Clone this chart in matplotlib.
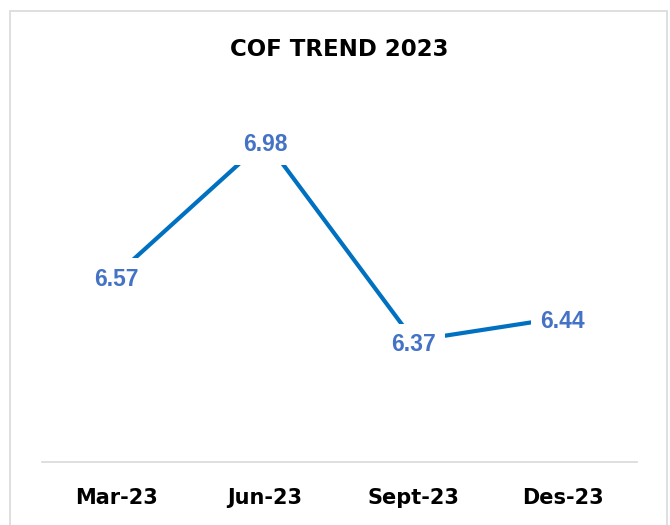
import matplotlib
matplotlib.use("Agg")
from matplotlib import pyplot as plt
from matplotlib.patches import Rectangle


# figure data
periods = ["Mar-23", "Jun-23", "Sept-23", "Des-23"]
cof_values = [6.57, 6.98, 6.37, 6.44]
chart_title = "COF TREND 2023"

# figure params
line_color = "#0070C0"
label_color = "#4472C4"
grid_color = "#D9D9D9"

# figure making
fig = plt.figure(figsize=(6.7, 5.25), dpi=100)
fig.patch.set_facecolor("white")
ax = fig.add_axes([42 / 670, 1 - 462 / 525, 595 / 670, (462 - 68) / 525])

xs = range(len(periods))
ax.plot(xs, cof_values, color=line_color, linewidth=3, solid_capstyle="butt", zorder=2)

for x, v in zip(xs, cof_values):
    ax.annotate(f"{v:.2f}", (x, v), xytext=(0, -3), textcoords="offset points",
                ha="center", va="center", fontsize=16.5, fontweight="bold",
                family=["Liberation Sans", "DejaVu Sans"], color=label_color,
                bbox=dict(boxstyle="square,pad=0.4", facecolor="white", edgecolor="none"),
                zorder=3)

ax.set_xlim(-0.5, len(periods) - 0.5)
ax.set_ylim(6.0, 7.2)
ax.set_xticks(list(xs))
ax.set_xticklabels(periods, fontsize=15, fontweight="bold", family="DejaVu Sans")
ax.set_yticks([])
ax.tick_params(axis="x", length=0, pad=19)

ax.spines['right'].set_visible(False)
ax.spines['left'].set_visible(False)
ax.spines['top'].set_visible(False)
ax.spines['bottom'].set_color(grid_color)
ax.spines['bottom'].set_linewidth(1.2)

fig.text(339 / 670, 1 - 50 / 525, chart_title, ha="center", va="center",
         fontsize=16.5, fontweight="bold", family="DejaVu Sans")

# outer chart border (bottom edge runs off the image)
border = Rectangle((10 / 670, -0.05), (667 - 10) / 670, 1 - 11 / 525 + 0.05,
                   transform=fig.transFigure, fill=False, edgecolor=grid_color, linewidth=1.2)
fig.patches.append(border)

fig.savefig("out.png", dpi=100, facecolor="white")
